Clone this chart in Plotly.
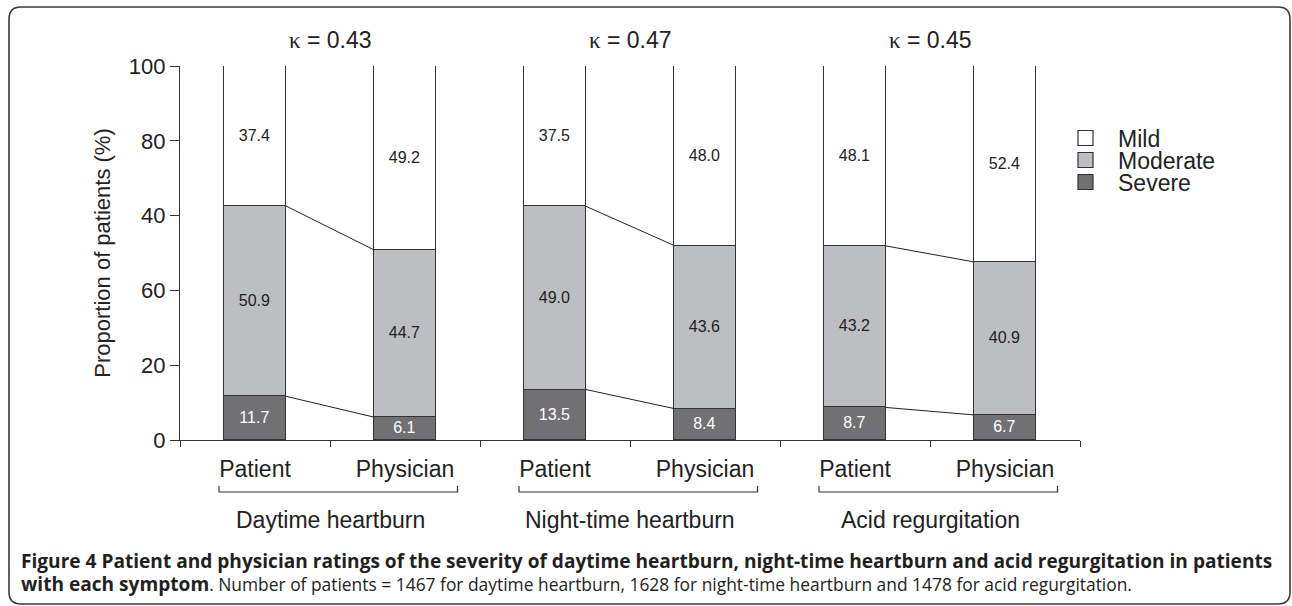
import plotly.graph_objects as go

# ---------------- data ----------------
categories = ["Patient", "Physician", "Patient", "Physician", "Patient", "Physician"]
groups = ["Daytime heartburn", "Night-time heartburn", "Acid regurgitation"]
kappas = ["0.43", "0.47", "0.45"]
severe = [11.7, 6.1, 13.5, 8.4, 8.7, 6.7]
moderate = [50.9, 44.7, 49.0, 43.6, 43.2, 40.9]
mild = [37.4, 49.2, 37.5, 48.0, 48.1, 52.4]
series_names = ["Mild", "Moderate", "Severe"]
y_tickvals = [0, 20, 40, 60, 80, 100]
y_ticktext = ["0", "20", "60", "40", "80", "100"]
caption_bold1 = ("Figure 4 Patient and physician ratings of the severity of daytime heartburn, "
                 "night-time heartburn and acid regurgitation in patients")
caption_bold2 = "with each symptom"
caption_rest = (". Number of patients = 1467 for daytime heartburn, 1628 for night-time "
                "heartburn and 1478 for acid regurgitation.")

# ---------------- layout helpers ----------------
W, H = 1292, 606
L, R, T, B = 180, 1080, 66, 440


def px(x):
    return (x - L) / (R - L)


def py(y):
    return (B - y) / (B - T)


FONT = "Liberation Sans, Arial, sans-serif"
colors = {"Mild": "#ffffff", "Moderate": "#bdbec1", "Severe": "#717174"}
text_colors = {"Mild": "#222222", "Moderate": "#222222", "Severe": "#ffffff"}
values = {"Mild": mild, "Moderate": moderate, "Severe": severe}
BAR_W = 0.41
xs = list(range(len(categories)))

fig = go.Figure()
for name in ["Severe", "Moderate", "Mild"]:
    vals = values[name]
    fig.add_trace(go.Bar(
        x=xs, y=vals, name=name, width=BAR_W,
        marker=dict(color=colors[name], line=dict(color="#333333", width=1.3)),
        text=[f"{v:.1f}" for v in vals], textposition="inside",
        insidetextanchor="middle", textangle=0, constraintext="none",
        textfont=dict(size=16, color=text_colors[name], family=FONT),
        showlegend=False, hoverinfo="name+y",
    ))

# connecting lines between patient and physician bars
for g in range(len(groups)):
    i = 2 * g
    xl = [i + BAR_W / 2, i + 1 - BAR_W / 2]
    fig.add_trace(go.Scatter(x=xl, y=[severe[i], severe[i + 1]], mode="lines",
                             line=dict(color="#222222", width=1), showlegend=False,
                             hoverinfo="skip"))
    fig.add_trace(go.Scatter(x=xl, y=[severe[i] + moderate[i], severe[i + 1] + moderate[i + 1]],
                             mode="lines", line=dict(color="#222222", width=1),
                             showlegend=False, hoverinfo="skip"))

annotations = []
shapes = []

for g, (grp, k) in enumerate(zip(groups, kappas)):
    cx = 2 * g + 0.5
    annotations.append(dict(
        x=cx, y=py(40), xref="x", yref="paper", showarrow=False,
        text=f"<span style=\"font-family:Liberation Serif\">κ</span> = {k}",
        font=dict(size=23, family=FONT, color="#222222"), xanchor="center", yanchor="middle"))
    annotations.append(dict(
        x=cx, y=py(520), xref="x", yref="paper", showarrow=False, text=grp,
        font=dict(size=23, family=FONT, color="#222222"), xanchor="center", yanchor="middle"))
    x0, x1 = 2 * g - 0.24, 2 * g + 1.35
    shapes.append(dict(
        type="path", xref="x", yref="paper",
        path=f"M {x0},{py(486)} L {x0},{py(492)} L {x1},{py(492)} L {x1},{py(486)}",
        line=dict(color="#333333", width=1.2)))

# legend (manual, to match the tight spacing of the reference)
leg_y = [138, 160, 182]
for name, yc in zip(series_names, leg_y):
    shapes.append(dict(type="rect", xref="paper", yref="paper",
                       x0=px(1078), x1=px(1093), y0=py(yc - 7.5), y1=py(yc + 7.5),
                       fillcolor=colors[name], line=dict(color="#333333", width=1.2)))
legend_text = "<br>".join(f"<span style=\"font-size:23px\">{n}</span>" for n in series_names)
annotations.append(dict(x=px(1116), y=py(leg_y[1] + 1), xref="paper", yref="paper",
                        showarrow=False, text=legend_text, xanchor="left", yanchor="middle",
                        align="left", font=dict(size=17, family=FONT, color="#222222")))

# caption (one annotation, two lines)
CAP_FONT = "Open Sans, Noto Sans, sans-serif"
BOLD = "<span style=\"font-size:19.1px\"><b>{}</b></span>"
caption = BOLD.format(caption_bold1) + "<br>" + BOLD.format(caption_bold2) + caption_rest
annotations.append(dict(x=px(19), y=py(572), xref="paper", yref="paper", showarrow=False,
                        xanchor="left", yanchor="middle", align="left", text=caption,
                        font=dict(size=17.4, family=CAP_FONT, color="#231f20")))

# rounded frame
r = 12
fl, ft, fr, fb = 9, 7, 1290, 604
frame = (f"M {px(fl)},{py(fb - r)} L {px(fl)},{py(ft + r)} "
         f"Q {px(fl)},{py(ft)} {px(fl + r)},{py(ft)} "
         f"L {px(fr - r)},{py(ft)} Q {px(fr)},{py(ft)} {px(fr)},{py(ft + r)} "
         f"L {px(fr)},{py(fb - r)} Q {px(fr)},{py(fb)} {px(fr - r)},{py(fb)} "
         f"L {px(fl + r)},{py(fb)} Q {px(fl)},{py(fb)} {px(fl)},{py(fb - r)} Z")
shapes.append(dict(type="path", xref="paper", yref="paper", path=frame,
                   line=dict(color="#3a3a3a", width=1.6)))

fig.update_layout(
    width=W, height=H,
    margin=dict(l=L, r=W - R, t=T, b=H - B),
    paper_bgcolor="white", plot_bgcolor="white",
    barmode="stack", bargap=0,
    showlegend=False,
    font=dict(family=FONT, color="#222222"),
    annotations=annotations, shapes=shapes,
    xaxis=dict(
        range=[-0.5, 5.5], tickmode="array", tickvals=xs, ticktext=categories,
        ticks="", showline=True, linecolor="#333333", linewidth=1.2,
        showgrid=False, zeroline=False, ticklabelstandoff=8,
        tickfont=dict(size=23, family=FONT, color="#222222"),
        minor=dict(ticks="outside", tickmode="array",
                   tickvals=[v - 0.5 for v in xs] + [len(xs) - 0.5],
                   ticklen=6, tickcolor="#333333", tickwidth=1.2, showgrid=False),
    ),
    yaxis=dict(
        range=[0, 100], tickmode="array", tickvals=y_tickvals, ticktext=y_ticktext,
        ticks="outside", ticklen=9, tickcolor="#333333", tickwidth=1.2,
        showline=True, linecolor="#333333", linewidth=1.2,
        showgrid=False, zeroline=False,
        tickfont=dict(size=22, family=FONT, color="#222222"),
        title=dict(text="Proportion of patients (%)", standoff=12,
                   font=dict(size=22, family=FONT, color="#222222")),
    ),
)

fig.write_html("out.html", config={"displayModeBar": False},
               post_script="document.body.style.margin='0';document.body.style.overflow='hidden';")
